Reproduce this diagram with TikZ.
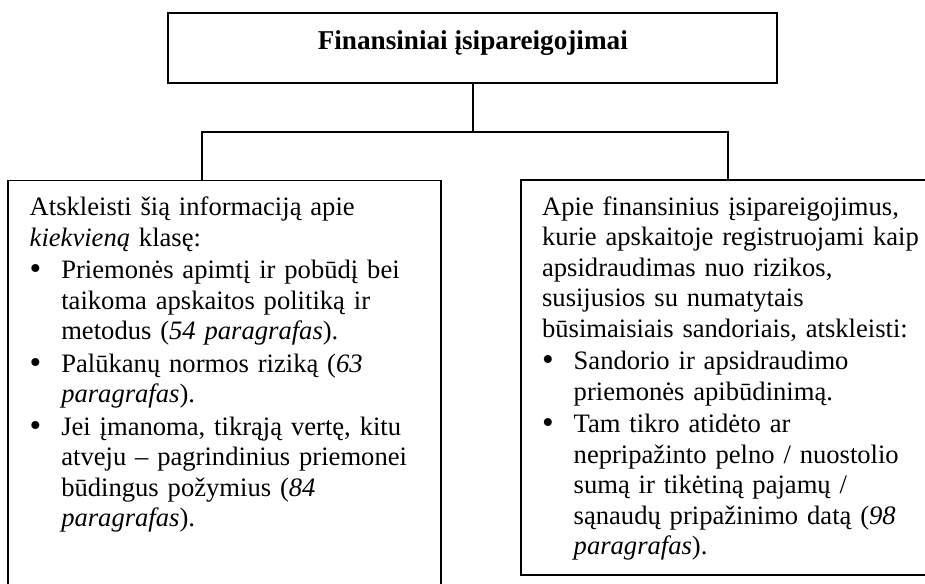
\documentclass[tikz,border=0pt]{standalone}
\usepackage{fontspec}
\setmainfont{Liberation Serif}
\usetikzlibrary{positioning}
\tikzset{%
	blokas/.style  = {draw, rectangle, line width=0.9pt, inner sep=0pt, outer sep=0pt, anchor=north west},
	tekstas/.style = {inner sep=0pt, anchor=north west, align=left, text width=205pt, font=\fontsize{13.3}{15.25}\selectfont, execute at begin node={\setlength{\parskip}{0pt}}},
	linija/.style  = {line width=0.9pt},
}
\newcommand{\punktas}[1]{\par\vspace{1pt}{\leftskip=15.8pt\noindent\llap{\makebox[15.8pt][l]{\raisebox{-0.6pt}{\scalebox{1.25}{\textbullet}}}}#1\par}}

\begin{document}
\begin{tikzpicture}[x=0.5pt,y=-0.5pt]
	\useasboundingbox (0,0) rectangle (925,583);
	\fill[white] (0,0) rectangle (925,583);
	\clip (0,0) rectangle (925,583);

	% virsutinis blokas
	\node[blokas, minimum width=304.5pt, minimum height=35.3pt, font=\fontsize{13.6}{15.25}\selectfont\bfseries, text height=6pt, text depth=4pt] (fin) at (168.3,12.7) {Finansiniai įsipareigojimai};

	% apatiniai blokai
	\node[blokas, minimum width=216.2pt, minimum height=220pt] (kairys) at (8.3,180.5) {};
	\node[blokas, minimum width=216.5pt, minimum height=197.5pt] (desinys) at (520.7,180) {};

	\node[tekstas, below right=6.7pt and 10.5pt of kairys.north west] (kairiojo) {\strut Atskleisti šią informaciją apie\\ \emph{kiekvieną} klasę:
		\punktas{Priemonės apimtį ir pobūdį bei\\ taikoma apskaitos politiką ir\\ metodus (\emph{54 paragrafas}).}
		\punktas{Palūkanų normos riziką (\emph{63}\\ \emph{paragrafas}).}
		\punktas{Jei įmanoma, tikrąją vertę, kitu\\ atveju – pagrindinius priemonei\\ būdingus požymius (\emph{84}\\ \emph{paragrafas}).}};

	\node[tekstas, below right=6.7pt and 10.5pt of desinys.north west] (desiniojo) {\strut Apie finansinius įsipareigojimus,\\ kurie apskaitoje registruojami kaip\\ apsidraudimas nuo rizikos,\\ susijusios su numatytais\\ būsimaisiais sandoriais, atskleisti:
		\punktas{Sandorio ir apsidraudimo\\ priemonės apibūdinimą.}
		\punktas{Tam tikro atidėto ar\\ nepripažinto pelno / nuostolio\\ sumą ir tikėtiną pajamų /\\ sąnaudų pripažinimo datą (\emph{98}\\ \emph{paragrafas}).}};

	% jungtys
	\coordinate (sakos) at (472.5,131.7);
	\coordinate (kaire) at (202,180.5);
	\coordinate (desine) at (728.3,180);
	\draw[linija] (fin.south) -- (fin.south |- sakos);
	\draw[linija] (kaire) |- (fin.south |- sakos) -| (desine);
\end{tikzpicture}
\end{document}
